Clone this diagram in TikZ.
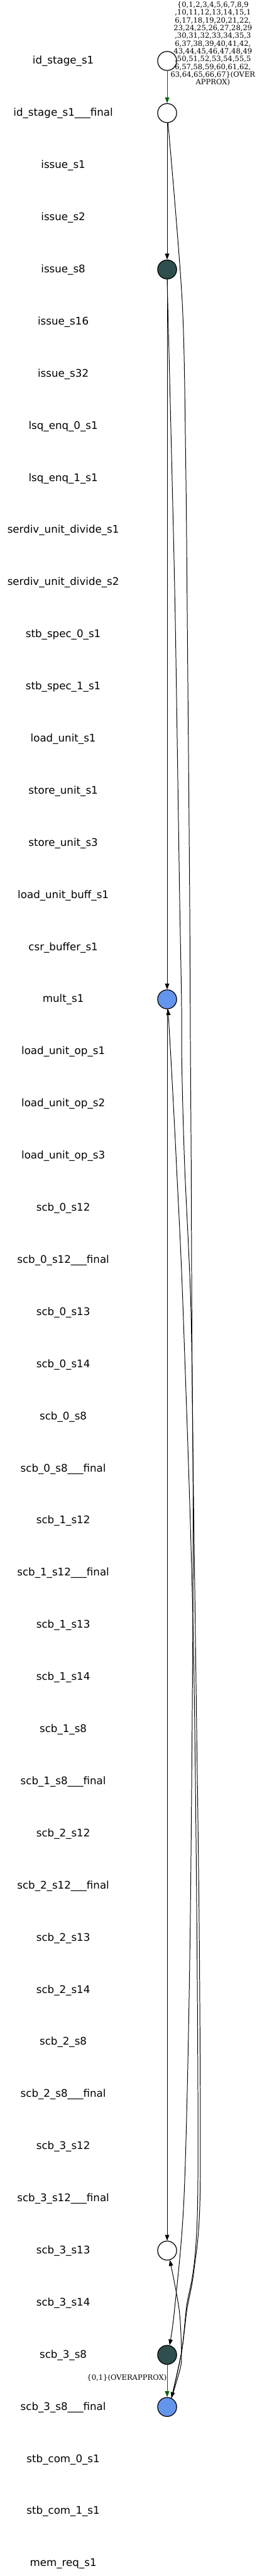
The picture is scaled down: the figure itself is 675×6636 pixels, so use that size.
\documentclass[tikz,border=0pt]{standalone}
\usepackage{fontspec}
\usetikzlibrary{positioning,arrows.meta}
\newfontfamily\lblfont{DejaVu Sans}
\newfontfamily\edgefont{DejaVu Serif}
\definecolor{darkslate}{HTML}{2F4F4F}
\definecolor{cblue}{HTML}{6495ED}
\definecolor{dgreen}{HTML}{006400}

\begin{document}
\begin{tikzpicture}[x=1pt, y=-1pt, node distance=134.3pt, on grid, every node/.style={font=\lblfont\fontsize{27}{32}\selectfont}]
\tikzstyle{lbl}=[inner sep=0pt, text height=22pt, text depth=6pt]
\tikzstyle{st}=[circle, draw, line width=2pt, minimum size=49pt, inner sep=0pt, fill=white]
\tikzstyle{edge}=[line width=1.6pt, -{Triangle[length=15pt,width=11pt]}]
\tikzstyle{gedge}=[edge, draw=dgreen]
\tikzstyle{elbl}=[font=\edgefont\fontsize{18.7}{20}\selectfont, align=center, inner sep=0pt]
\useasboundingbox (0,0) rectangle (675,6636);

% left column: stage names
\node[lbl] (lIdS1) at (163,157) {id\_stage\_s1};
\node[lbl, below=of lIdS1] (lIdS1F) {id\_stage\_s1\_\_\_final};
\node[lbl, below=of lIdS1F] (lIss1) {issue\_s1};
\node[lbl, below=of lIss1] (lIss2) {issue\_s2};
\node[lbl, below=of lIss2] (lIss8) {issue\_s8};
\node[lbl, below=of lIss8] (lIss16) {issue\_s16};
\node[lbl, below=of lIss16] (lIss32) {issue\_s32};
\node[lbl, below=of lIss32] (lLsq0) {lsq\_enq\_0\_s1};
\node[lbl, below=of lLsq0] (lLsq1) {lsq\_enq\_1\_s1};
\node[lbl, below=of lLsq1] (lDiv1) {serdiv\_unit\_divide\_s1};
\node[lbl, below=of lDiv1] (lDiv2) {serdiv\_unit\_divide\_s2};
\node[lbl, below=of lDiv2] (lSpec0) {stb\_spec\_0\_s1};
\node[lbl, below=of lSpec0] (lSpec1) {stb\_spec\_1\_s1};
\node[lbl, below=of lSpec1] (lLoad) {load\_unit\_s1};
\node[lbl, below=of lLoad] (lStore1) {store\_unit\_s1};
\node[lbl, below=of lStore1] (lStore3) {store\_unit\_s3};
\node[lbl, below=of lStore3] (lLoadBuf) {load\_unit\_buff\_s1};
\node[lbl, below=of lLoadBuf] (lCsr) {csr\_buffer\_s1};
\node[lbl, below=of lCsr] (lMult) {mult\_s1};
\node[lbl, below=of lMult] (lOp1) {load\_unit\_op\_s1};
\node[lbl, below=of lOp1] (lOp2) {load\_unit\_op\_s2};
\node[lbl, below=of lOp2] (lOp3) {load\_unit\_op\_s3};
\node[lbl, below=of lOp3] (lA12) {scb\_0\_s12};
\node[lbl, below=of lA12] (lA12F) {scb\_0\_s12\_\_\_final};
\node[lbl, below=of lA12F] (lA13) {scb\_0\_s13};
\node[lbl, below=of lA13] (lA14) {scb\_0\_s14};
\node[lbl, below=of lA14] (lA8) {scb\_0\_s8};
\node[lbl, below=of lA8] (lA8F) {scb\_0\_s8\_\_\_final};
\node[lbl, below=of lA8F] (lB12) {scb\_1\_s12};
\node[lbl, below=of lB12] (lB12F) {scb\_1\_s12\_\_\_final};
\node[lbl, below=of lB12F] (lB13) {scb\_1\_s13};
\node[lbl, below=of lB13] (lB14) {scb\_1\_s14};
\node[lbl, below=of lB14] (lB8) {scb\_1\_s8};
\node[lbl, below=of lB8] (lB8F) {scb\_1\_s8\_\_\_final};
\node[lbl, below=of lB8F] (lC12) {scb\_2\_s12};
\node[lbl, below=of lC12] (lC12F) {scb\_2\_s12\_\_\_final};
\node[lbl, below=of lC12F] (lC13) {scb\_2\_s13};
\node[lbl, below=of lC13] (lC14) {scb\_2\_s14};
\node[lbl, below=of lC14] (lC8) {scb\_2\_s8};
\node[lbl, below=of lC8] (lC8F) {scb\_2\_s8\_\_\_final};
\node[lbl, below=of lC8F] (lD12) {scb\_3\_s12};
\node[lbl, below=of lD12] (lD12F) {scb\_3\_s12\_\_\_final};
\node[lbl, below=of lD12F] (lD13) {scb\_3\_s13};
\node[lbl, below=of lD13] (lD14) {scb\_3\_s14};
\node[lbl, below=of lD14] (lD8) {scb\_3\_s8};
\node[lbl, below=of lD8] (lD8F) {scb\_3\_s8\_\_\_final};
\node[lbl, below=of lD8F] (lCom0) {stb\_com\_0\_s1};
\node[lbl, below=of lCom0] (lCom1) {stb\_com\_1\_s1};
\node[lbl, below=of lCom1] (lMem) {mem\_req\_s1};

% states
\node[st, right=268pt of lIdS1] (idS1) {};
\node[st, right=268pt of lIdS1F] (idS1F) {};
\node[st, fill=darkslate, right=268pt of lIss8] (iss8) {};
\node[st, fill=cblue, right=268pt of lMult] (mult) {};
\node[st, right=268pt of lD13] (d13) {};
\node[st, fill=darkslate, right=268pt of lD8] (d8) {};
\node[st, fill=cblue, right=268pt of lD8F] (d8F) {};

% transitions
\draw[gedge] (idS1) -- (idS1F);
\node[elbl] (rangeA) at (549,113) {\{0,1,2,3,4,5,6,7,8,9\\,10,11,12,13,14,15,1\\6,17,18,19,20,21,22,\\23,24,25,26,27,28,29\\,30,31,32,33,34,35,3\\6,37,38,39,40,41,42,\\43,44,45,46,47,48,49\\,50,51,52,53,54,55,5\\6,57,58,59,60,61,62,\\63,64,65,66,67\}(OVER\\APPROX)};
\draw[edge] (idS1F) -- (iss8);
\draw[edge] (iss8) -- (mult);
\draw[edge] (mult) -- (d13);
\draw[gedge] (d8) -- (d8F);
\node[elbl, anchor=east] (rangeB) at (430,6125) {\{0,1\}(OVERAPPROX)};
\draw[edge] plot[smooth, tension=0.5] coordinates {(idS1F.-85) (470,780) (479,1200) (483,1600) (489,2300) (491,2700) (493,3000) (496,3600) (505,4300) (514,5000) (516,5650) (500,5850) (482,5950) (468,6060) (d8F.64)};
\draw[edge] plot[smooth, tension=0.5] coordinates {(iss8.-90) (443,1200) (452,1600) (463,2300) (468,2575) (469,2750) (476,3000) (493,3400) (498,4000) (490,5000) (475,5650) (450,5950) (d8.76)};
\draw[edge] plot[smooth, tension=0.5] coordinates {(d8F.64) (468,6060) (480,5950) (510,5650) (500,4300) (473,3400) (455,3000) (442,2750) (mult.-85)};
\draw[edge] plot[smooth, tension=0.5] coordinates {(d8F.64) (465,6100) (468,6060) (462,5950) (d13.-74)};
\end{tikzpicture}
\end{document}
